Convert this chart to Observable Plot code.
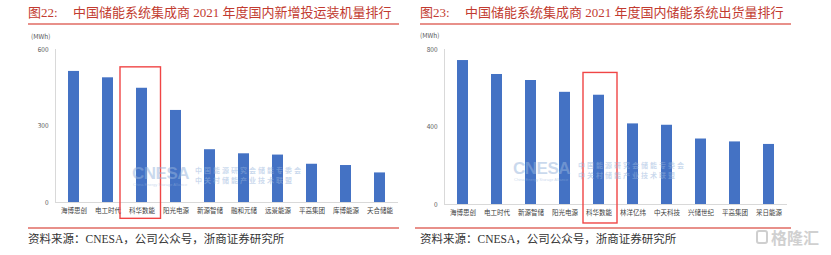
<!DOCTYPE html>
<html><head><meta charset="utf-8">
<script src="https://cdn.jsdelivr.net/npm/d3@7"></script>
<script src="https://cdn.jsdelivr.net/npm/@observablehq/plot@0.6"></script>
<style>
body{margin:0;background:#fff;}
#wrap{position:relative;width:831px;height:255px;overflow:hidden;font-family:"Liberation Serif","Noto Sans CJK SC",serif;}
.abs{position:absolute;white-space:nowrap;}
.title{font-size:13px;color:#c23b30;line-height:1;}
.rule{position:absolute;height:2px;background:#e8908a;}
.src{font-size:11.5px;color:#333;line-height:1;}
.unit{font-family:"Noto Sans CJK SC",sans-serif;font-size:6.5px;color:#595959;line-height:1;}
.wm{color:rgba(150,180,220,0.5);font-family:"Liberation Sans",Arial,sans-serif;line-height:1;}
.wmc{color:rgba(150,180,220,0.5);font-family:"Noto Sans CJK SC",sans-serif;font-size:7px;letter-spacing:2px;line-height:1;font-weight:bold;}
</style></head>
<body><div id="wrap"></div>
<script>
// ---- data ----
const leftCategories = ["海博思创","电工时代","科华数能","阳光电源","新源智储","融和元储","远景能源","平高集团","库博能源","天合储能"];
const leftValues = [514, 489, 448, 361, 207, 191, 186, 150, 145, 116];
const leftTicks = [0, 300, 600];
const rightCategories = ["海博思创","电工时代","新源智储","阳光电源","科华数能","林洋亿纬","中天科技","兴储世纪","平高集团","采日能源"];
const rightValues = [743, 671, 640, 579, 564, 416, 409, 338, 323, 310];
const rightTicks = [0, 400, 800];
const highlight = "科华数能";
const unitLabel = "(MWh)";
const leftTitle = ["图22:", "中国储能系统集成商 2021 年度国内新增投运装机量排行"];
const rightTitle = ["图23:", "中国储能系统集成商 2021 年度国内储能系统出货量排行"];
const sourceText = "资料来源：CNESA，公司公众号，浙商证券研究所";
const watermarkLines = ["中国能源研究会储能专委会", "中关村储能产业技术联盟"];

const wrap = document.getElementById("wrap");
function addDiv(cls, left, top, html, extra){
  const d = document.createElement("div");
  d.className = "abs " + cls;
  d.style.left = left + "px"; d.style.top = top + "px";
  d.innerHTML = html;
  if (extra) Object.assign(d.style, extra);
  wrap.appendChild(d);
  return d;
}
function addRule(left, top, width){
  const d = document.createElement("div");
  d.className = "rule";
  d.style.left = left + "px"; d.style.top = top + "px"; d.style.width = width + "px";
  wrap.appendChild(d);
}

function chart(cats, vals, ticks, ymax, box, opts){
  const data = cats.map((c,i)=>({name:c, value:vals[i]}));
  return Plot.plot({
    width: opts.width, height: 200,
    marginLeft: opts.ml, marginRight: opts.mr, marginTop: 19, marginBottom: opts.mb,
    style:{fontFamily:"'Noto Sans CJK SC',sans-serif", fontSize:"6.5px", color:"#595959", background:"transparent", overflow:"visible"},
    x:{domain:cats, paddingInner:0.69, paddingOuter:0.345, label:null},
    y:{domain:[0,ymax], label:null},
    marks:[
      Plot.frame({anchor:"left", stroke:"#d9d9d9"}),
      Plot.ruleY([0], {stroke:"#d9d9d9"}),
      Plot.axisY({ticks:ticks, tickSize:0, tickPadding:7, label:null, fill:"#595959"}),
      Plot.axisX({tickSize:0, tickPadding:6, label:null, fill:"#404040"}),
      Plot.barY(data, {x:"name", y:"value", fill:"#4472c4"}),
      Plot.barY([highlight], {x:d=>d, y1:box[0], y2:box[1], fill:"none", stroke:"#f04545", strokeWidth:1.4, insetLeft:opts.il, insetRight:opts.ir})
    ]
  });
}

// titles
addDiv("title", 28, 6, leftTitle[0]);
addDiv("title", 73, 6, leftTitle[1]);
addDiv("title", 420, 6, rightTitle[0]);
addDiv("title", 465, 6, rightTitle[1]);
addRule(28, 23, 371);
addRule(420, 23, 371);
addRule(28, 227, 371);
addRule(415, 227, 376);

// charts
const c1 = chart(leftCategories, leftValues, leftTicks, 600, [-64, 530], {width:415, ml:55, mr:17, mb:28, il:-16, ir:-13.5});
c1.style.position = "absolute"; c1.style.left = "0px"; c1.style.top = "30px";
wrap.appendChild(c1);
const c2 = chart(rightCategories, rightValues, rightTicks, 800, [-98, 679], {width:416, ml:29, mr:44, mb:26, il:-10, ir:-13});
c2.style.position = "absolute"; c2.style.left = "415px"; c2.style.top = "30px";
wrap.appendChild(c2);

addDiv("unit", 31, 33, unitLabel);
addDiv("unit", 420, 32, unitLabel);

// watermarks
addDiv("wm", 132, 165, "CNESA", {fontSize:"17px", fontWeight:"bold", letterSpacing:"-0.5px"});
addDiv("wm", 133, 183, "China Energy Storage Alliance", {fontSize:"4px"});
addDiv("wmc", 195, 166.5, watermarkLines[0]);
addDiv("wmc", 195, 177, watermarkLines[1]);
addDiv("wm", 513, 160, "CNESA", {fontSize:"17px", fontWeight:"bold", letterSpacing:"-0.5px"});
addDiv("wm", 514, 178, "China Energy Storage Alliance", {fontSize:"4px"});
addDiv("wmc", 578, 161.5, watermarkLines[0]);
addDiv("wmc", 578, 172, watermarkLines[1]);

// sources
addDiv("src", 28, 234, sourceText);
addDiv("src", 420, 234, sourceText);

// logo
addDiv("", 756, 230, "", {width:"12px", height:"14px", border:"2px solid #cfcfcf", borderRadius:"3px", boxSizing:"border-box"});
addDiv("", 771, 229, "格隆汇", {fontFamily:"'Noto Sans CJK SC',sans-serif", fontSize:"16px", color:"#d0d0d0", lineHeight:"1", fontWeight:"bold"});
</script>
</body></html>
